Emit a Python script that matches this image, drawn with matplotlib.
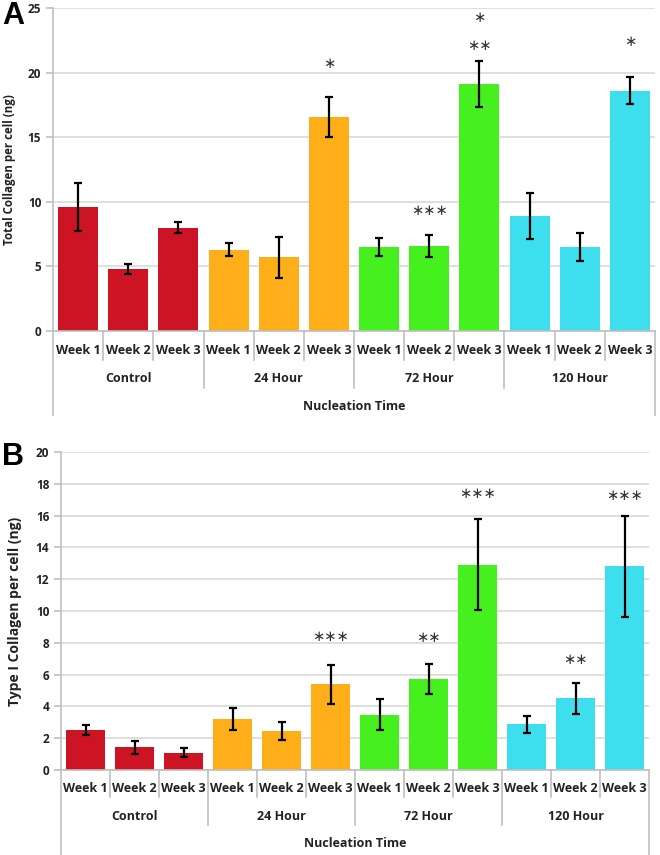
import matplotlib.pyplot as plt

# data
groups = ['Control', '24 Hour', '72 Hour', '120 Hour']
weeks = ['Week 1', 'Week 2', 'Week 3']
colors = ['#CC1424', '#FDAE19', '#45F01E', '#3DDFEE']

total = [9.6, 4.8, 8.0, 6.3, 5.7, 16.55, 6.5, 6.57, 19.1, 8.87, 6.5, 18.6]
total_err = [1.85, 0.4, 0.42, 0.49, 1.6, 1.55, 0.72, 0.83, 1.8, 1.78, 1.1, 1.03]
# (bar index, marker, height)
total_stars = [(5, '*', 20.7), (7, '***', 9.3), (8, '**', 22.1), (8, '*', 24.3),
               (11, '*', 22.4)]

type1 = [2.51, 1.42, 1.09, 3.23, 2.47, 5.38, 3.48, 5.70, 12.92, 2.87, 4.50, 12.8]
type1_err = [0.3, 0.4, 0.27, 0.7, 0.57, 1.24, 0.96, 0.94, 2.85, 0.52, 0.99, 3.16]
type1_stars = [(5, '***', 8.42), (7, '**', 8.35), (8, '***', 17.4), (10, '**', 6.97),
               (11, '***', 17.27)]

W, H = 660, 855
plt.rcParams['font.family'] = ['Open Sans', 'DejaVu Sans']
fig = plt.figure(figsize=(W / 100, H / 100), dpi=100)
GRID = '#d9d9d9'
AX = '#bfbfbf'
TXT = '#222222'


def panel(rect, vals, errs, stars, ymax, ystep, ylabel, ylab_size, offs):
    l, b, r, t = rect
    ax = fig.add_axes([l / W, 1 - b / H, (r - l) / W, (b - t) / H])
    hpx = b - t
    n = len(vals)
    x = list(range(n))
    cols = [colors[i // 3] for i in range(n)]
    ax.bar(x, vals, width=0.8, color=cols, zorder=2)
    ax.errorbar(x, vals, yerr=errs, fmt='none', ecolor='black', elinewidth=1.6,
                capsize=3, capthick=1.6, zorder=3)
    for i, s, yv in stars:
        ax.text(i, yv, s.replace('*', '∗'), ha='center', va='center',
                fontsize=10.5, color='#333333', family='DejaVu Sans')
    ax.set_xlim(-0.5, n - 0.5)
    ax.set_ylim(0, ymax)
    ax.set_yticks(range(0, ymax + 1, ystep))
    ax.yaxis.grid(True, color=GRID, lw=1.2, zorder=0)
    ax.set_axisbelow(True)
    for sp in ['top', 'right']:
        ax.spines[sp].set_visible(False)
    for sp in ['left', 'bottom']:
        ax.spines[sp].set_color(AX)
        ax.spines[sp].set_linewidth(1.2)
    ax.tick_params(axis='y', colors=AX, length=5, width=1.2, labelsize=8.5,
                   labelcolor=TXT)
    for lab in ax.get_yticklabels():
        lab.set_fontweight('bold')
    ax.set_xticks([])
    ax.set_ylabel(ylabel, fontsize=ylab_size, fontweight='bold', color=TXT)

    wk, gp, tt, s1, s2, s3 = [o / hpx for o in offs]
    tr = ax.get_xaxis_transform()
    for i in range(n):
        ax.text(i, -wk, weeks[i % 3], transform=tr, ha='center', va='center',
                fontsize=9, fontweight='bold', color=TXT)
    for i in range(1, n):
        d = s2 if i % 3 == 0 else s1
        ax.plot([i - 0.5, i - 0.5], [0, -d], transform=tr, color=AX, lw=1.2,
                clip_on=False)
    for e in [-0.5, n - 0.5]:
        ax.plot([e, e], [0, -s3], transform=tr, color=AX, lw=1.2, clip_on=False)
    for g, name in enumerate(groups):
        ax.text(g * 3 + 1, -gp, name, transform=tr, ha='center', va='center',
                fontsize=9, fontweight='bold', color=TXT)
    ax.text((n - 1) / 2, -tt, 'Nucleation Time', transform=tr, ha='center',
            va='center', fontsize=9, fontweight='bold', color=TXT)
    return ax


axA = panel((53, 331, 655, 8), total, total_err, total_stars, 25, 5,
            'Total Collagen per cell (ng)', 8.3, (19, 47, 76, 29, 57, 84))
axB = panel((61, 770, 649, 452), type1, type1_err, type1_stars, 20, 2,
            'Type I Collagen per cell (ng)', 10, (18, 46, 73, 27, 55, 85))
axA.yaxis.set_label_coords(-0.061, 0.5)
axB.yaxis.set_label_coords(-0.066, 0.5)

fig.text(2 / W, 1 - 16 / H, 'A', fontsize=22, fontweight='bold',
         family='Liberation Sans', va='center', ha='left')
fig.text(2 / W, 1 - 457 / H, 'B', fontsize=22, fontweight='bold',
         family='Liberation Sans', va='center', ha='left')

fig.savefig('out.png', dpi=100)
